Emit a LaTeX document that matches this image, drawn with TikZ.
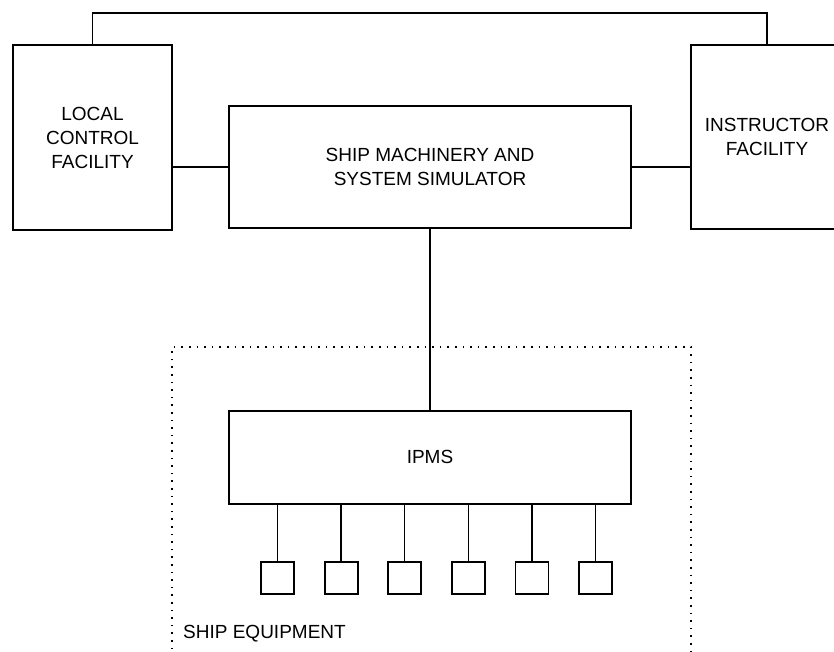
\documentclass[tikz,border=0pt]{standalone}
\usepackage{fontspec}
\setmainfont{Liberation Sans}
\usetikzlibrary{positioning}

\begin{document}
\begin{tikzpicture}[
  x=1pt, y=1pt,
  font=\fontsize{19}{24}\selectfont,
  block/.style={draw, line width=1.8pt, align=center, inner sep=0pt},
  unit/.style={draw, line width=1.8pt, minimum width=33pt, minimum height=32pt, inner sep=0pt},
  link/.style={line width=1.3pt},
  frame/.style={line width=2pt, dash pattern=on 1.6pt off 6pt}
]
\useasboundingbox (0,0) rectangle (834,652);
\clip (0,0) rectangle (834,652);
% upper row
\node[block, minimum width=159pt, minimum height=185pt] (lcf) at (92.5,514.5) {LOCAL\\CONTROL\\FACILITY};
\node[block, minimum width=402pt, minimum height=122pt] (sim) at (430,485) {SHIP MACHINERY AND\\SYSTEM SIMULATOR};
\node[block, minimum width=152pt, minimum height=184pt] (inst) at (767,515) {INSTRUCTOR\\FACILITY};
% ship side
\draw[frame] (172,-20) rectangle (691,305);
\node[block, minimum width=402pt, minimum height=93pt, below=181pt of sim] (ipms) {IPMS};
\node[unit] (u1) at (277.5,74) {};
\foreach \i [count=\j] in {2,...,6}
  \node[unit, right=28.8pt of u\j] (u\i) {};
\node[anchor=west, inner sep=0pt] (equip) at (183,18) {SHIP EQUIPMENT};
% links
\draw[link] (lcf.north) -- ++(0,31) -| (inst.north);
\draw[link] (sim.west) -- (sim.west -| lcf.east);
\draw[link] (sim.east) -- (sim.east -| inst.west);
\draw[link] (sim.south) -- (ipms.north);
\foreach \i in {1,...,6}
  \draw[link] (u\i.north) -- (u\i.north |- ipms.south);
\end{tikzpicture}
\end{document}
